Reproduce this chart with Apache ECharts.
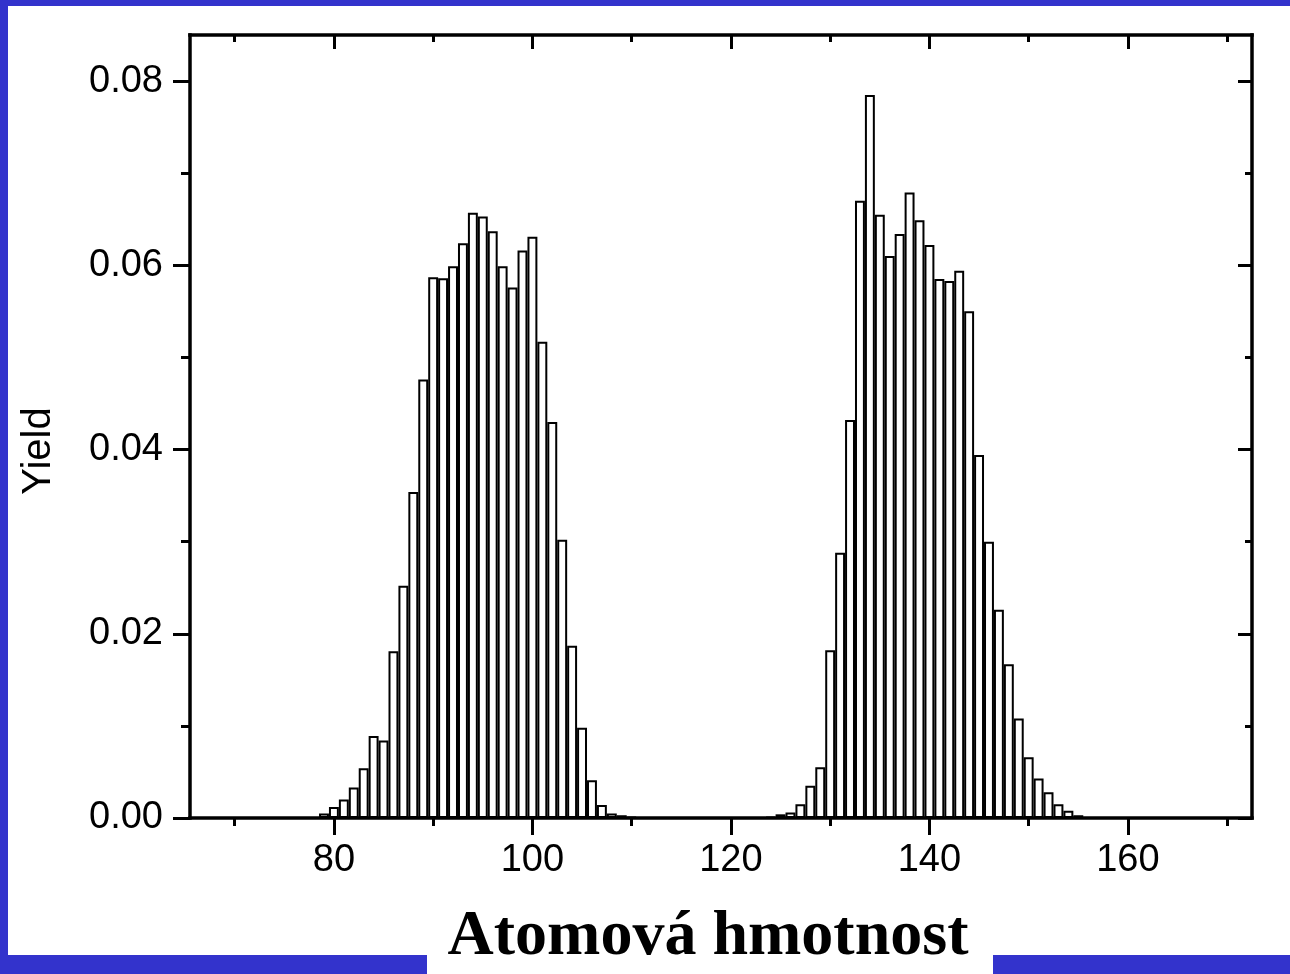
<!DOCTYPE html>
<html><head><meta charset="utf-8">
<script src="https://cdn.jsdelivr.net/npm/echarts@6/dist/echarts.min.js"></script>
<style>html,body{margin:0;padding:0;background:#fff}#c{width:1290px;height:974px}</style>
</head><body><div id="c"></div>
<script>
// ---- data ----
const massA  = [79,80,81,82,83,84,85,86,87,88,89,90,91,92,93,94,95,96,97,98,99,100,101,102,103,104,105,106,107,108,109,110];
const yieldA = [0.0005,0.0012,0.0020,0.0033,0.0054,0.0089,0.0084,0.0181,0.0252,0.0354,0.0476,0.0587,0.0586,0.0599,0.0624,0.0657,0.0653,0.0637,0.0599,0.0576,0.0616,0.0631,0.0517,0.0430,0.0302,0.0187,0.0098,0.0041,0.0014,0.0005,0.0003,0.0001];
const massB  = [124,125,126,127,128,129,130,131,132,133,134,135,136,137,138,139,140,141,142,143,144,145,146,147,148,149,150,151,152,153,154,155];
const yieldB = [0.0001,0.0004,0.0006,0.0015,0.0035,0.0055,0.0182,0.0288,0.0432,0.0670,0.0785,0.0655,0.0610,0.0634,0.0679,0.0649,0.0622,0.0585,0.0583,0.0594,0.0550,0.0394,0.0300,0.0226,0.0167,0.0108,0.0066,0.0043,0.0028,0.0015,0.0008,0.0003];
const xMajorTicks = [80,100,120,140,160];
const xMinorTicks = [70,90,110,130,150,170];
const yMajorTicks = [0,0.02,0.04,0.06,0.08];
const yMinorTicks = [0.01,0.03,0.05,0.07];
const xTitle = 'Atomová hmotnost';
const yTitle = 'Yield';

// ---- layout ----
const X_MIN = 65.5, X_MAX = 172.5, Y_MIN = 0, Y_MAX = 0.085;
const G = {left:190, top:35, width:1062, height:783};
const BLUE = '#3333cc';
const FONT = "'Liberation Sans', Arial, sans-serif";

const points = [];
massA.forEach((m,i)=>points.push([m, yieldA[i]]));
massB.forEach((m,i)=>points.push([m, yieldB[i]]));

function axisCommon(min,max){
  return {type:'value', min, max, z:5, splitLine:{show:false}, minorTick:{show:false}};
}
function mkX(pos, ticks, len, inside, withLabels, withLine){
  const a = axisCommon(X_MIN,X_MAX);
  a.position = pos;
  a.axisLine = {show:withLine, onZero:false, lineStyle:{color:'#000', width:3.5, cap:'square'}};
  a.axisTick = {show:true, customValues:ticks, length:len, inside, lineStyle:{color:'#000', width:3}};
  a.axisLabel = withLabels ? {show:true, customValues:ticks, margin:24, color:'#000', fontSize:38, fontFamily:FONT,
      formatter:v=>String(v)} : {show:false};
  return a;
}
function mkY(pos, ticks, len, inside, withLabels, withLine){
  const a = axisCommon(Y_MIN,Y_MAX);
  a.position = pos;
  a.axisLine = {show:withLine, onZero:false, lineStyle:{color:'#000', width:3.5, cap:'square'}};
  a.axisTick = {show:true, customValues:ticks, length:len, inside, lineStyle:{color:'#000', width:3}};
  a.axisLabel = withLabels ? {show:true, customValues:ticks, margin:27, color:'#000', fontSize:38, fontFamily:FONT,
      formatter:v=>v.toFixed(2)} : {show:false};
  return a;
}

const chart = echarts.init(document.getElementById('c'), null, {renderer:'canvas'});
chart.setOption({
  animation:false,
  backgroundColor:'#fff',
  grid:{left:G.left, top:G.top, width:G.width, height:G.height, containLabel:false},
  xAxis:[
    mkX('bottom', xMajorTicks, 17, false, true, true),
    mkX('bottom', xMinorTicks, 8, false, false, false),
    mkX('top', xMajorTicks, 14, true, false, true),
    mkX('top', xMinorTicks, 7, true, false, false)
  ],
  yAxis:[
    mkY('left', yMajorTicks, 17, false, true, true),
    mkY('left', yMinorTicks, 9, false, false, false),
    mkY('right', yMajorTicks, 14, true, false, true),
    mkY('right', yMinorTicks, 7, true, false, false)
  ],
  series:[{
    type:'bar', xAxisIndex:0, yAxisIndex:0,
    data:points,
    barWidth: G.width/(X_MAX-X_MIN),
    itemStyle:{color:'#fff', borderColor:'#000', borderWidth:2},
    emphasis:{disabled:true}
  }],
  graphic:[
    {type:'rect', left:0, top:0, shape:{width:1290, height:6}, style:{fill:BLUE}, z:10},
    {type:'rect', left:0, top:0, shape:{width:8, height:974}, style:{fill:BLUE}, z:10},
    {type:'rect', left:0, top:955, shape:{width:427, height:19}, style:{fill:BLUE}, z:10},
    {type:'rect', left:993, top:955, shape:{width:297, height:19}, style:{fill:BLUE}, z:10},
    {type:'text', x:39, y:451, rotation:Math.PI/2, z:10,
      style:{text:yTitle, font:"40px 'Liberation Sans', Arial, sans-serif", fill:'#000', align:'center', verticalAlign:'middle'}},
    {type:'text', x:708, y:937, z:10,
      style:{text:xTitle, font:"bold 64px 'Liberation Serif', 'Times New Roman', serif", fill:'#000', align:'center', verticalAlign:'middle'}}
  ]
});
</script></body></html>
